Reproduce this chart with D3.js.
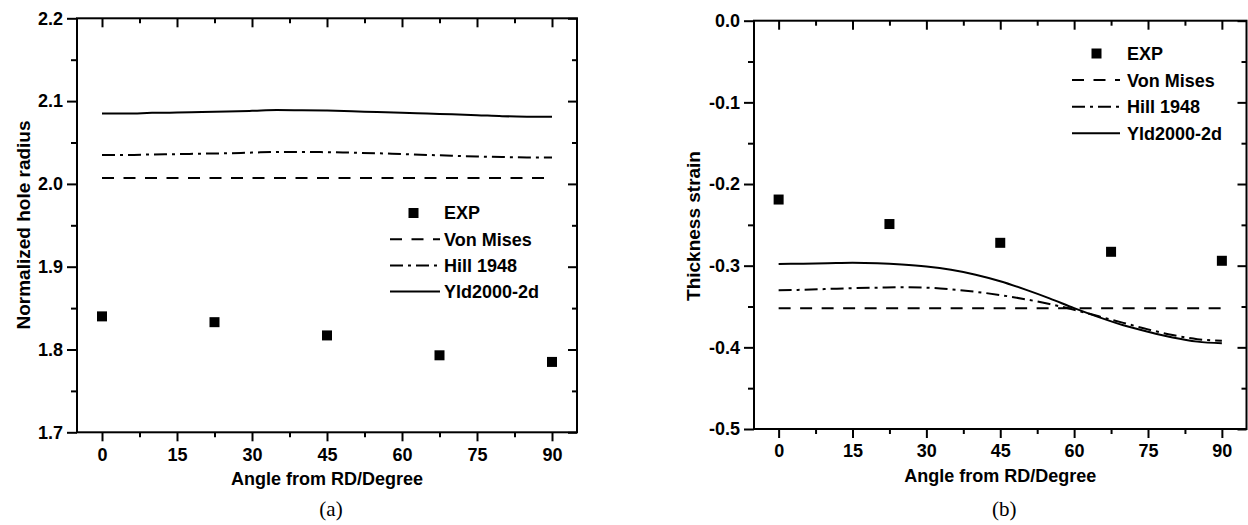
<!DOCTYPE html>
<html>
<head>
<meta charset="utf-8">
<script src="https://cdn.jsdelivr.net/npm/d3@7"></script>
<style>
  html, body { margin: 0; padding: 0; background: #fff; }
  svg { display: block; }
  text { font-family: "Liberation Sans", Arial, sans-serif; font-weight: bold; fill: #000; }
</style>
</head>
<body>
<svg id="chart" width="1248" height="525"></svg>
<script>
// ---------------- data ----------------
const expAngles = [0, 22.5, 45, 67.5, 90];
const curveAngles = [0, 5, 10, 15, 20, 25, 30, 35, 40, 45, 50, 55, 60, 65, 70, 75, 80, 85, 90];

// Panel (a): normalized hole radius
const radiusExp = [1.840, 1.833, 1.817, 1.793, 1.785];
const radiusVonMises = [2.007, 2.007, 2.007, 2.007, 2.007, 2.007, 2.007, 2.007, 2.007, 2.007, 2.007, 2.007, 2.007, 2.007, 2.007, 2.007, 2.007, 2.007, 2.007];
const radiusHill = [2.035, 2.035, 2.0355, 2.036, 2.0365, 2.037, 2.0378, 2.0385, 2.0386, 2.0383, 2.0377, 2.037, 2.036, 2.035, 2.034, 2.033, 2.0325, 2.032, 2.032];
const radiusYld = [2.085, 2.085, 2.0858, 2.0862, 2.0868, 2.0874, 2.0882, 2.0892, 2.089, 2.0885, 2.0877, 2.0868, 2.086, 2.085, 2.084, 2.083, 2.0818, 2.0812, 2.081];

// Panel (b): thickness strain
const strainExp = [-0.219, -0.249, -0.272, -0.283, -0.294];
const strainVonMises = [-0.352, -0.352, -0.352, -0.352, -0.352, -0.352, -0.352, -0.352, -0.352, -0.352, -0.352, -0.352, -0.352, -0.352, -0.352, -0.352, -0.352, -0.352, -0.352];
const strainHill = [-0.330, -0.3295, -0.3285, -0.3275, -0.327, -0.3265, -0.327, -0.329, -0.332, -0.336, -0.341, -0.347, -0.354, -0.362, -0.370, -0.378, -0.385, -0.390, -0.392];
const strainYld = [-0.298, -0.2975, -0.297, -0.2965, -0.297, -0.2985, -0.301, -0.305, -0.311, -0.319, -0.329, -0.340, -0.352, -0.363, -0.373, -0.381, -0.388, -0.393, -0.395];

const xTicks = [0, 15, 30, 45, 60, 75, 90];
const xMinorTicks = [7.5, 22.5, 37.5, 52.5, 67.5, 82.5];
const radiusTicks = [1.7, 1.8, 1.9, 2.0, 2.1, 2.2];
const radiusMinorTicks = [1.75, 1.85, 1.95, 2.05, 2.15];
const strainTicks = [-0.5, -0.4, -0.3, -0.2, -0.1, 0.0];
const strainMinorTicks = [-0.45, -0.35, -0.25, -0.15, -0.05];

const legendLabels = ["EXP", "Von Mises", "Hill 1948", "Yld2000-2d"];
const xTitle = "Angle from RD/Degree";

// ---------------- drawing ----------------
const svg = d3.select("#chart");

const dashVM = "12,9.5";
const dashHill = "13,5,3,5";

function drawPanel(cfg) {
  const g = svg.append("g");
  const x = d3.scaleLinear().domain([-5, 95]).range([cfg.left, cfg.right]);
  const y = d3.scaleLinear().domain(cfg.yDomain).range([cfg.bottom, cfg.top]);

  const majorLen = 9, minorLen = 5;

  // bottom axis (outward)
  const bAxis = g.append("g").attr("transform", `translate(0,${cfg.bottom})`)
    .call(d3.axisBottom(x).tickValues(xTicks).tickSize(majorLen).tickPadding(6.5).tickFormat(d3.format("d")));
  g.append("g").attr("transform", `translate(0,${cfg.bottom})`)
    .call(d3.axisBottom(x).tickValues(xMinorTicks).tickSize(minorLen).tickFormat(""));
  // top axis (inward)
  g.append("g").attr("transform", `translate(0,${cfg.top})`)
    .call(d3.axisTop(x).tickValues(xTicks).tickSize(-majorLen).tickFormat(""));
  g.append("g").attr("transform", `translate(0,${cfg.top})`)
    .call(d3.axisTop(x).tickValues(xMinorTicks).tickSize(-minorLen).tickFormat(""));
  // left axis (outward)
  g.append("g").attr("transform", `translate(${cfg.left},0)`)
    .call(d3.axisLeft(y).tickValues(cfg.yTicks).tickSize(majorLen + 1).tickPadding(4).tickFormat(cfg.yFormat));
  g.append("g").attr("transform", `translate(${cfg.left},0)`)
    .call(d3.axisLeft(y).tickValues(cfg.yMinor).tickSize(minorLen + 1).tickFormat(""));
  // right axis (inward)
  g.append("g").attr("transform", `translate(${cfg.right},0)`)
    .call(d3.axisRight(y).tickValues(cfg.yTicks).tickSize(-majorLen).tickFormat(""));
  g.append("g").attr("transform", `translate(${cfg.right},0)`)
    .call(d3.axisRight(y).tickValues(cfg.yMinor).tickSize(-minorLen).tickFormat(""));

  g.selectAll(".domain").remove();
  g.selectAll(".tick line").attr("stroke", "#000").attr("stroke-width", 2);
  g.selectAll(".tick text").style("font-size", "18px").style("font-family", '"Liberation Sans", Arial, sans-serif').style("font-weight", "bold").attr("fill", "#000");

  // frame
  g.append("rect")
    .attr("x", cfg.left).attr("y", cfg.top)
    .attr("width", cfg.right - cfg.left).attr("height", cfg.bottom - cfg.top)
    .attr("fill", "none").attr("stroke", "#000").attr("stroke-width", 2);

  // curves
  const line = d3.line().x(d => x(d[0])).y(d => y(d[1])).curve(d3.curveMonotoneX);
  const series = [
    { vals: cfg.vm, dash: dashVM },
    { vals: cfg.hill, dash: dashHill },
    { vals: cfg.yld, dash: null }
  ];
  series.forEach(s => {
    g.append("path")
      .datum(curveAngles.map((a, i) => [a, s.vals[i]]))
      .attr("d", line)
      .attr("fill", "none").attr("stroke", "#000").attr("stroke-width", 2)
      .attr("stroke-dasharray", s.dash);
  });

  // experimental squares
  const ms = 10;
  g.selectAll("rect.exp").data(expAngles.map((a, i) => [a, cfg.exp[i]])).enter()
    .append("rect").attr("class", "exp")
    .attr("x", d => x(d[0]) - ms / 2).attr("y", d => y(d[1]) - ms / 2)
    .attr("width", ms).attr("height", ms).attr("fill", "#000");

  // legend
  const L = cfg.legend;
  legendLabels.forEach((lab, i) => {
    const ly = L.y + i * L.dy;
    if (i === 0) {
      g.append("rect").attr("x", L.sq - 5).attr("y", ly - 5).attr("width", 10).attr("height", 10).attr("fill", "#000");
    } else {
      g.append("line").attr("x1", L.x1).attr("x2", L.x2).attr("y1", ly).attr("y2", ly)
        .attr("stroke", "#000").attr("stroke-width", 2)
        .attr("stroke-dasharray", i === 1 ? dashVM : (i === 2 ? dashHill : null));
    }
    g.append("text").attr("x", L.tx).attr("y", ly).attr("dy", "0.36em")
      .style("font-size", "18px").text(lab);
  });

  // axis titles
  g.append("text")
    .attr("transform", `translate(${cfg.yTitleX},${cfg.yTitleY}) rotate(-90)`)
    .attr("text-anchor", "middle").style("font-size", "19px").text(cfg.yTitle);
  g.append("text")
    .attr("x", (cfg.left + cfg.right) / 2).attr("y", cfg.bottom + 53)
    .attr("text-anchor", "middle").style("font-size", "18px").text(xTitle);
  g.append("text")
    .attr("x", (cfg.left + cfg.right) / 2 + 4).attr("y", 516)
    .attr("text-anchor", "middle")
    .style("font-family", '"Liberation Serif", "Times New Roman", serif')
    .style("font-weight", "normal").style("font-size", "21px").text(cfg.caption);
}

drawPanel({
  left: 77, right: 577, top: 18.3, bottom: 432.3,
  yDomain: [1.7, 2.2], yTicks: radiusTicks, yMinor: radiusMinorTicks, yFormat: d3.format(".1f"),
  exp: radiusExp, vm: radiusVonMises, hill: radiusHill, yld: radiusYld,
  legend: { y: 213, dy: 26.2, sq: 413.5, x1: 390, x2: 440, tx: 444 },
  yTitle: "Normalized hole radius", yTitleX: 30, yTitleY: 225, caption: "(a)"
});

drawPanel({
  left: 754, right: 1246.5, top: 20.7, bottom: 429,
  yDomain: [-0.5, 0], yTicks: strainTicks, yMinor: strainMinorTicks, yFormat: d => d3.format(".1f")(d).replace("\u2212", "-"),
  exp: strainExp, vm: strainVonMises, hill: strainHill, yld: strainYld,
  legend: { y: 53.5, dy: 26.6, sq: 1096.5, x1: 1072, x2: 1120, tx: 1127 },
  yTitle: "Thickness strain", yTitleX: 700, yTitleY: 226, caption: "(b)"
});
</script>
</body>
</html>
